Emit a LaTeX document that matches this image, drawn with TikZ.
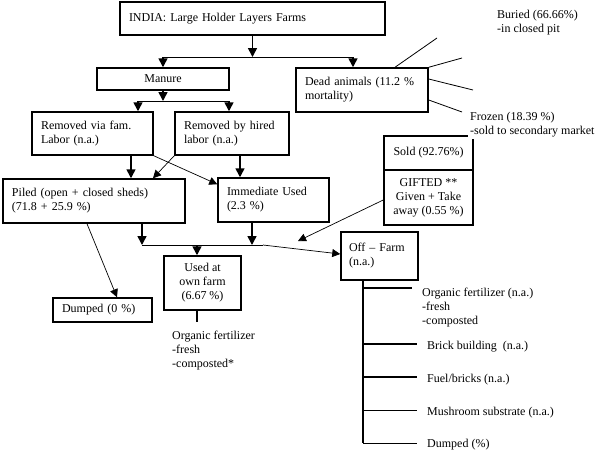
\documentclass[tikz,border=0pt]{standalone}
\usepackage{fontspec}
\setmainfont{Liberation Serif}
\usetikzlibrary{arrows.meta,positioning}
\newcommand{\fs}{\fontsize{12}{14}\selectfont}
\tikzset{
  box/.style={draw, line width=1.5pt, inner xsep=9pt, inner ysep=0pt, align=left, font=\fs},
  cbox/.style={box, align=center},
  arr/.style={-{Triangle[length=9pt,width=9pt]}, line width=1.6pt},
  thinarr/.style={-{Triangle[length=8pt,width=8pt]}, line width=0.7pt},
  link/.style={line width=0.8pt},
  trunk/.style={line width=1.6pt},
  lbl/.style={anchor=base west, align=left, inner sep=0pt, font=\fs}
}

\begin{document}
\begin{tikzpicture}[x=1pt, y=-1pt]
  \useasboundingbox (0,0) rectangle (599,451);
  % boxes
  \node[box, text width=247pt, minimum height=33pt] (india) at (252.5,18.5) {INDIA: Large Holder Layers Farms};
  \node[cbox, minimum width=132pt, minimum height=22pt] (manure) at (163,79) {Manure};
  \node[box, text width=114pt, minimum height=44pt] (dead) at (362,90) {Dead animals (11.2 \%\\mortality)};
  \node[box, text width=103pt, minimum height=43pt] (fam) at (92.5,133.5) {Removed via fam.\\Labor (n.a.)};
  \node[box, text width=96pt, minimum height=43pt] (hired) at (232,133.5) {Removed by hired\\labor (n.a.)};
  \node[box, text width=164pt, minimum height=44pt] (piled) at (94,201) {Piled (open + closed sheds)\\(71.8 + 25.9 \%)};
  \node[box, text width=93pt, minimum height=44pt] (immed) at (273.5,200) {Immediate Used\\(2.3 \%)};
  \node[box, text width=81pt, minimum height=24pt] (dumped) at (102.5,310) {Dumped (0 \%)};
  \node[cbox, minimum width=77pt, minimum height=54pt] (own) at (202.5,283) {Used at\\own farm\\(6.67 \%)};
  \node[cbox, minimum width=89pt, minimum height=34pt] (sold) at (428.5,153) {Sold (92.76\%)};
  \node[cbox, minimum width=89pt, minimum height=55pt] (gifted) at (428.5,197.5) {GIFTED **\\Given + Take\\away (0.55 \%)};
  \node[box, inner xsep=8pt, text width=61pt, minimum height=48pt] (off) at (379.5,256) {Off -- Farm\\(n.a.)};

  % junctions
  \coordinate (j1) at (252.5,57);
  \coordinate (jl) at (163,57);
  \coordinate (jr) at (353,57);
  \coordinate (j2) at (163,101);
  \coordinate (j2l) at (138,101);
  \coordinate (j2r) at (229,101);
  \coordinate (jp) at (142,245);
  \coordinate (ju) at (252,245);
  \coordinate (jo) at (197,245);
  \coordinate (jm) at (263,245);
  \coordinate (jg) at (298,241);
  \coordinate (jc) at (197,322);
  \coordinate (jt) at (363,443);
  \coordinate (bu) at (437,38);
  \coordinate (d2) at (462,58);
  \coordinate (d3) at (473,90);
  \coordinate (d4) at (462,112);

  % top split
  \draw[arr] (india.south) -- (j1);
  \draw[link] (jl) -- (jr);
  \draw[arr] (jl) -- (manure.north);
  \draw[arr] (jr) -- ([xshift=-9pt]dead.north);
  % manure
  \draw[arr] (manure.south) -- (j2);
  \draw[link] (j2l) -- (j2r);
  \draw[arr] (j2l) -- ([xshift=45.5pt]fam.north);
  \draw[arr] (j2r) -- ([xshift=-3pt]hired.north);
  \draw[arr] ([xshift=38.5pt]fam.south) -- ([xshift=37pt]piled.north);
  \draw[thinarr] (hired.south west) -- ([xshift=59pt]piled.north);
  \draw[thinarr] (fam.south east) -- ([yshift=-7pt]immed.north west);
  \draw[arr] ([xshift=8pt]hired.south) -- ([xshift=-33.5pt]immed.north);
  % use
  \draw[arr] ([xshift=48pt]piled.south) -- (jp);
  \draw[arr] ([xshift=-21.5pt]immed.south) -- (ju);
  \draw[link] (jp) -- (jm);
  \draw[thinarr] (jm) -- ([yshift=2pt]off.west);
  \draw[arr] (jo) -- ([xshift=-5.5pt]own.north);
  \draw[trunk] ([xshift=-5.5pt]own.south) -- (jc);
  \draw[thinarr] ([xshift=-7pt]piled.south) -- ([xshift=14.5pt]dumped.north);
  \draw[thinarr] ([yshift=-2.5pt]gifted.west) -- (jg);
  % dead animals
  \draw[link] ([xshift=33pt]dead.north) -- (bu);
  \draw[link] (dead.north east) -- (d2);
  \draw[link] ([yshift=11pt]dead.east) -- (d3);
  \draw[link] ([yshift=-10pt]dead.east) -- (d4);
  % off farm tree
  \draw[line width=1.2pt] ([xshift=-16.5pt]off.south) -- (jt);
  \foreach \y/\e/\w in {288/412/1.6pt, 344/417/1.6pt, 377/417/1.6pt, 410/417/0.8pt, 443/417/0.8pt}{
    \draw[line width=\w] (363,\y) -- (\e,\y);
  }

  % labels (base = last line)
  \node[lbl] (buried) at (497,32) {Buried (66.66\%)\\-in closed pit};
  \node[lbl, fill=white, inner sep=2pt] (frozen) at (468,134) {Frozen (18.39 \%)\\-sold to secondary market};
  \node[lbl] (ownuse) at (172,367) {Organic fertilizer\\-fresh\\-composted*};
  \node[lbl] (of1) at (422,324) {Organic fertilizer (n.a.)\\-fresh\\-composted};
  \node[lbl] (of2) at (427,349) {Brick building~ (n.a.)};
  \node[lbl] (of3) at (427,382) {Fuel/bricks (n.a.)};
  \node[lbl] (of4) at (427,415) {Mushroom substrate (n.a.)};
  \node[lbl] (of5) at (427,447) {Dumped (\%)};
\end{tikzpicture}
\end{document}
